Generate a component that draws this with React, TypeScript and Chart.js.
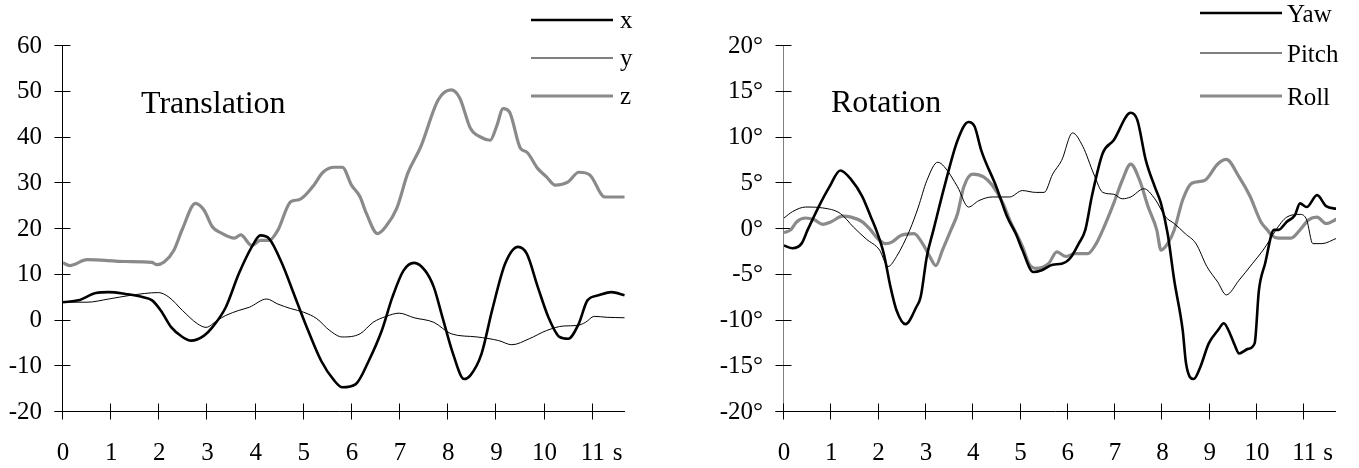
import React, { useEffect, useRef } from "react";
import { Chart, registerables } from "chart.js";

Chart.register(...registerables);

const FONT = '"Liberation Serif", "Times New Roman", Times, serif';

// ---- axis ticks ----
const timeTicks = [0, 1, 2, 3, 4, 5, 6, 7, 8, 9, 10, 11];
const timeMax = 11.67;
const transTicks = [-20, -10, 0, 10, 20, 30, 40, 50, 60];
const rotTicks = [-20, -15, -10, -5, 0, 5, 10, 15, 20];

// ---- Translation: x ----
const transXT = [0, 0.32, 0.68, 0.95, 1.3, 1.67, 1.85, 2.03, 2.25, 2.48, 2.66, 2.93, 3.1, 3.38, 3.65, 3.92, 4.1, 4.28, 4.55, 4.82, 5.09, 5.36, 5.63, 5.8, 6.08, 6.35, 6.62, 6.84, 7.07, 7.29, 7.52, 7.7, 7.88, 8.1, 8.33, 8.46, 8.69, 8.91, 9.18, 9.45, 9.63, 9.86, 10.08, 10.31, 10.49, 10.71, 10.89, 11.12, 11.39, 11.66];
const transXV = [4.0, 4.4, 6.0, 6.2, 5.8, 5.1, 4.4, 2.2, -1.5, -3.6, -4.4, -3.3, -1.5, 2.9, 10.2, 16.1, 18.6, 17.9, 12.4, 5.1, -2.2, -8.8, -13.1, -14.6, -13.9, -8.8, -2.2, 5.1, 10.9, 12.6, 10.9, 7.3, 0.7, -7.3, -12.8, -12.0, -7.3, 2.2, 12.4, 16.1, 14.6, 7.3, 0.7, -3.6, -4.0, -0.7, 4.4, 5.5, 6.2, 5.5];

// ---- Translation: y ----
const transYT = [0, 0.5, 0.95, 1.4, 1.98, 2.2, 2.48, 2.79, 2.97, 3.2, 3.38, 3.65, 3.87, 4.23, 4.46, 4.73, 5.0, 5.27, 5.54, 5.8, 6.17, 6.44, 6.71, 6.98, 7.29, 7.7, 8.06, 8.6, 9.05, 9.32, 9.68, 10.04, 10.4, 10.67, 10.85, 11.03, 11.3, 11.66];
const transYV = [4.0, 4.0, 4.7, 5.5, 6.1, 5.1, 2.2, -0.7, -1.5, 0, 1.1, 2.2, 2.9, 4.7, 3.6, 2.6, 1.8, 0.4, -2.2, -3.6, -2.9, -0.4, 0.9, 1.6, 0.6, -0.4, -2.9, -3.6, -4.4, -5.3, -4.0, -2.2, -1.2, -1.1, -0.4, 0.9, 0.7, 0.6];

// ---- Translation: z ----
const transZT = [0, 0.14, 0.5, 1.3, 1.85, 1.94, 2.1, 2.3, 2.48, 2.75, 2.93, 3.1, 3.29, 3.56, 3.69, 3.92, 4.1, 4.28, 4.46, 4.73, 4.9, 5.18, 5.4, 5.63, 5.8, 5.99, 6.17, 6.3, 6.53, 6.7, 6.93, 7.16, 7.43, 7.79, 8.06, 8.24, 8.46, 8.69, 8.87, 9.0, 9.14, 9.27, 9.5, 9.63, 9.86, 10.04, 10.22, 10.49, 10.71, 10.94, 11.25, 11.66];
const transZV = [12.6, 12.0, 13.3, 12.9, 12.7, 12.2, 12.8, 15.3, 20.0, 25.6, 24.1, 20.5, 19.1, 18.0, 18.7, 16.4, 17.5, 17.5, 19.7, 26.0, 26.4, 29.2, 32.4, 33.5, 33.5, 29.6, 27.0, 23.4, 19.0, 20.5, 24.5, 32.2, 38.0, 48.2, 50.4, 48.6, 42.0, 40.0, 39.4, 42.3, 46.3, 45.6, 37.6, 36.8, 33.2, 31.4, 29.6, 30.3, 32.4, 31.8, 27.0, 27.0];

// ---- Rotation: Yaw ----
const yawT = [0, 0.18, 0.37, 0.5, 0.73, 0.96, 1.19, 1.42, 1.65, 1.83, 1.97, 2.11, 2.25, 2.38, 2.57, 2.8, 2.89, 3.02, 3.16, 3.39, 3.67, 3.9, 4.03, 4.17, 4.49, 4.72, 4.9, 5.04, 5.27, 5.45, 5.68, 5.87, 6.05, 6.23, 6.37, 6.51, 6.74, 6.97, 7.33, 7.47, 7.65, 7.84, 7.97, 8.11, 8.25, 8.43, 8.5, 8.66, 8.8, 8.98, 9.17, 9.3, 9.4, 9.53, 9.62, 9.81, 9.95, 10.04, 10.17, 10.36, 10.45, 10.63, 10.8, 10.91, 11.05, 11.27, 11.46, 11.69];
const yawV = [-1.8, -2.1, -1.6, -0.1, 2.4, 4.6, 6.4, 5.4, 3.6, 1.4, -0.4, -2.7, -6.3, -8.9, -10.4, -8.5, -7.4, -3.0, -0.1, 4.6, 9.7, 11.7, 11.2, 8.6, 4.6, 1.3, -0.5, -2.3, -4.7, -4.5, -3.9, -3.8, -3.2, -1.6, -0.1, 3.6, 8.3, 9.7, 12.7, 11.9, 7.5, 4.6, 2.8, -0.5, -5.6, -11.1, -14.7, -16.4, -15.1, -12.5, -11.1, -10.3, -11.1, -12.7, -13.6, -13.1, -12.5, -6.7, -3.8, -0.1, -0.1, 0.8, 1.5, 2.8, 2.4, 3.7, 2.5, 2.2];

// ---- Rotation: Pitch ----
const pitchT = [0, 0.18, 0.46, 0.82, 1.19, 1.47, 1.74, 2.02, 2.2, 2.38, 2.66, 2.84, 3.02, 3.25, 3.39, 3.67, 3.9, 4.12, 4.4, 4.77, 5.04, 5.32, 5.5, 5.68, 5.87, 6.1, 6.32, 6.55, 6.74, 6.97, 7.15, 7.33, 7.61, 7.84, 8.07, 8.25, 8.48, 8.71, 8.94, 9.17, 9.35, 9.62, 9.9, 10.13, 10.27, 10.4, 10.63, 10.91, 11.05, 11.18, 11.37, 11.69];
const pitchV = [1.2, 1.9, 2.4, 2.3, 1.7, 0.2, -1.1, -2.3, -4.1, -3.0, -0.1, 2.4, 5.3, 7.3, 6.8, 4.6, 2.4, 3.1, 3.5, 3.5, 4.2, 4.0, 4.0, 6.0, 7.5, 10.5, 9.0, 6.0, 4.0, 3.8, 3.3, 3.5, 4.4, 3.3, 1.3, 0.6, -0.5, -1.6, -4.1, -5.8, -7.2, -5.6, -3.8, -2.3, -1.2, -0.1, 1.3, 1.6, 1.0, -1.6, -1.6, -1.0];

// ---- Rotation: Roll ----
const rollT = [0, 0.14, 0.27, 0.46, 0.64, 0.82, 1.0, 1.24, 1.42, 1.65, 1.83, 1.97, 2.15, 2.29, 2.47, 2.75, 2.93, 3.07, 3.21, 3.35, 3.53, 3.67, 3.8, 3.99, 4.22, 4.4, 4.63, 4.77, 5.04, 5.18, 5.32, 5.59, 5.77, 5.96, 6.14, 6.42, 6.6, 6.74, 6.97, 7.15, 7.33, 7.52, 7.7, 7.88, 7.97, 8.11, 8.25, 8.43, 8.62, 8.89, 9.17, 9.35, 9.62, 9.85, 10.08, 10.22, 10.31, 10.45, 10.72, 10.91, 11.09, 11.27, 11.46, 11.69];
const rollV = [-0.4, -0.1, 0.8, 1.2, 1.0, 0.5, 0.8, 1.4, 1.3, 0.8, -0.1, -1.0, -1.6, -1.4, -0.7, -0.5, -1.6, -2.9, -4.0, -2.3, -0.1, 1.7, 4.6, 6.0, 5.7, 4.8, 2.8, 1.0, -1.9, -3.8, -4.3, -3.8, -2.5, -3.0, -2.7, -2.7, -1.6, -0.1, 2.8, 5.3, 7.1, 5.3, 2.4, -0.1, -2.3, -1.6, -0.1, 3.2, 5.0, 5.3, 7.1, 7.6, 5.7, 3.6, 0.8, -0.1, -0.7, -1.0, -1.0, -0.1, 1.0, 1.3, 0.6, 1.1];

const transLabels = ["x", "y", "z"];
const rotLabels = ["Yaw", "Pitch", "Roll"];

const toPoints = (t: number[], v: number[]) => t.map((x, i) => ({ x, y: v[i] }));

const decorPlugin = {
  id: "decor",
  beforeDatasetsDraw(chart: any, _args: any, opts: any) {
    const { ctx, chartArea: ca, scales } = chart;
    const xs = scales.x;
    const ys = scales.y;
    const bottom = Math.round(ca.bottom) - 0.5;
    const left = Math.round(ca.left) - 0.5;
    ctx.save();
    ctx.lineWidth = 1;
    ctx.strokeStyle = opts.yAxisColor;
    ctx.beginPath();
    ctx.moveTo(left, Math.round(ca.top));
    ctx.lineTo(left, bottom);
    ctx.stroke();
    ctx.strokeStyle = "#000";
    ctx.beginPath();
    ys.ticks.forEach((tk: any) => {
      const py = Math.round(ys.getPixelForValue(tk.value)) - 0.5;
      ctx.moveTo(left - 8, py);
      ctx.lineTo(left + 8, py);
    });
    ctx.stroke();
    ctx.beginPath();
    ctx.moveTo(left - 8, bottom);
    ctx.lineTo(Math.round(ca.right), bottom);
    ctx.stroke();
    ctx.beginPath();
    xs.ticks.forEach((tk: any) => {
      const px = Math.round(xs.getPixelForValue(tk.value)) - 0.5;
      ctx.moveTo(px, bottom - 8);
      ctx.lineTo(px, bottom + 8);
    });
    ctx.stroke();
    ctx.restore();
  },
  afterDraw(chart: any, _args: any, opts: any) {
    const { ctx, chartArea: ca, scales } = chart;
    const xs = scales.x;
    ctx.save();
    ctx.fillStyle = "#000";
    ctx.font = `32px ${FONT}`;
    ctx.textAlign = "left";
    ctx.textBaseline = "alphabetic";
    ctx.fillText(opts.title, opts.titleX, opts.titleY);
    ctx.font = `25px ${FONT}`;
    const lastTick = timeTicks[timeTicks.length - 1];
    ctx.fillText("s", xs.getPixelForValue(lastTick) + opts.unitDx, ca.bottom + 48);
    chart.data.datasets.forEach((ds: any, i: number) => {
      const ly = opts.legendYs[i];
      ctx.strokeStyle = ds.borderColor;
      ctx.lineWidth = ds.borderWidth;
      ctx.beginPath();
      ctx.moveTo(opts.legendX0, ly);
      ctx.lineTo(opts.legendX1, ly);
      ctx.stroke();
      ctx.fillText(ds.label, opts.legendTextX, ly + opts.legendDy);
    });
    ctx.restore();
  },
};

type SeriesSpec = { label: string; t: number[]; v: number[]; color: string; width: number };

type PanelSpec = {
  series: SeriesSpec[];
  yMin: number;
  yMax: number;
  yTicks: number[];
  fmt: (v: number) => string;
  yWidth: number;
  padRight: number;
  decor: any;
};

function makeConfig(p: PanelSpec): any {
  const tickFont = { family: FONT, size: 25 };
  return {
    type: "line",
    data: {
      datasets: p.series.map((s) => ({
        label: s.label,
        data: toPoints(s.t, s.v),
        borderColor: s.color,
        borderWidth: s.width,
        pointRadius: 0,
        fill: false,
        cubicInterpolationMode: "monotone",
      })),
    },
    options: {
      animation: false,
      responsive: false,
      events: [],
      layout: { padding: { top: 46, right: p.padRight, bottom: 0, left: 0 } },
      plugins: {
        legend: { display: false },
        tooltip: { enabled: false },
        decor: p.decor,
      },
      scales: {
        x: {
          type: "linear",
          min: 0,
          max: timeMax,
          grid: { display: false, drawTicks: false },
          border: { display: false },
          afterBuildTicks: (s: any) => {
            s.ticks = timeTicks.map((v) => ({ value: v }));
          },
          afterFit: (s: any) => {
            s.height = 56;
          },
          ticks: {
            font: tickFont,
            color: "#000",
            padding: 26,
            maxRotation: 0,
            autoSkip: false,
            callback: (v: number) => String(v),
          },
        },
        y: {
          type: "linear",
          min: p.yMin,
          max: p.yMax,
          grid: { display: false, drawTicks: false },
          border: { display: false },
          afterBuildTicks: (s: any) => {
            s.ticks = p.yTicks.map((v) => ({ value: v }));
          },
          afterFit: (s: any) => {
            s.width = p.yWidth;
          },
          ticks: {
            font: tickFont,
            color: "#000",
            padding: 21,
            autoSkip: false,
            callback: (v: number) => p.fmt(v),
          },
        },
      },
    },
    plugins: [decorPlugin],
  };
}

function Panel({ spec, left, width }: { spec: PanelSpec; left: number; width: number }) {
  const ref = useRef<HTMLCanvasElement | null>(null);
  useEffect(() => {
    if (!ref.current) return;
    const chart = new Chart(ref.current, makeConfig(spec));
    return () => chart.destroy();
  }, []);
  return (
    <canvas
      ref={ref}
      width={width}
      height={468}
      style={{ position: "absolute", left, top: 0, width, height: 468 }}
    />
  );
}

const transSpec: PanelSpec = {
  series: [
    { label: transLabels[0], t: transXT, v: transXV, color: "#000000", width: 2.6 },
    { label: transLabels[1], t: transYT, v: transYV, color: "#000000", width: 1 },
    { label: transLabels[2], t: transZT, v: transZV, color: "#8a8a8a", width: 3.2 },
  ],
  yMin: -20,
  yMax: 60,
  yTicks: transTicks,
  fmt: (v) => String(v),
  yWidth: 63,
  padRight: 55,
  decor: {
    yAxisColor: "#000",
    title: "Translation",
    titleX: 141,
    titleY: 113,
    unitDx: 20,
    legendYs: [20, 58, 96],
    legendX0: 531,
    legendX1: 613,
    legendTextX: 620,
    legendDy: 8,
  },
};

const rotSpec: PanelSpec = {
  series: [
    { label: rotLabels[0], t: yawT, v: yawV, color: "#000000", width: 2.6 },
    { label: rotLabels[1], t: pitchT, v: pitchV, color: "#000000", width: 1 },
    { label: rotLabels[2], t: rollT, v: rollV, color: "#8a8a8a", width: 3.2 },
  ],
  yMin: -20,
  yMax: 20,
  yTicks: rotTicks,
  fmt: (v) => `${v}°`,
  yWidth: 104,
  padRight: 23,
  decor: {
    yAxisColor: "#808080",
    title: "Rotation",
    titleX: 151,
    titleY: 112,
    unitDx: 19,
    legendYs: [13, 53, 96],
    legendX0: 520,
    legendX1: 602,
    legendTextX: 607,
    legendDy: 8.5,
  },
};

export default function App() {
  return (
    <div style={{ position: "absolute", left: 0, top: 0, width: 1359, height: 468, background: "#fff", overflow: "hidden" }}>
      <Panel spec={transSpec} left={0} width={680} />
      <Panel spec={rotSpec} left={680} width={679} />
    </div>
  );
}
